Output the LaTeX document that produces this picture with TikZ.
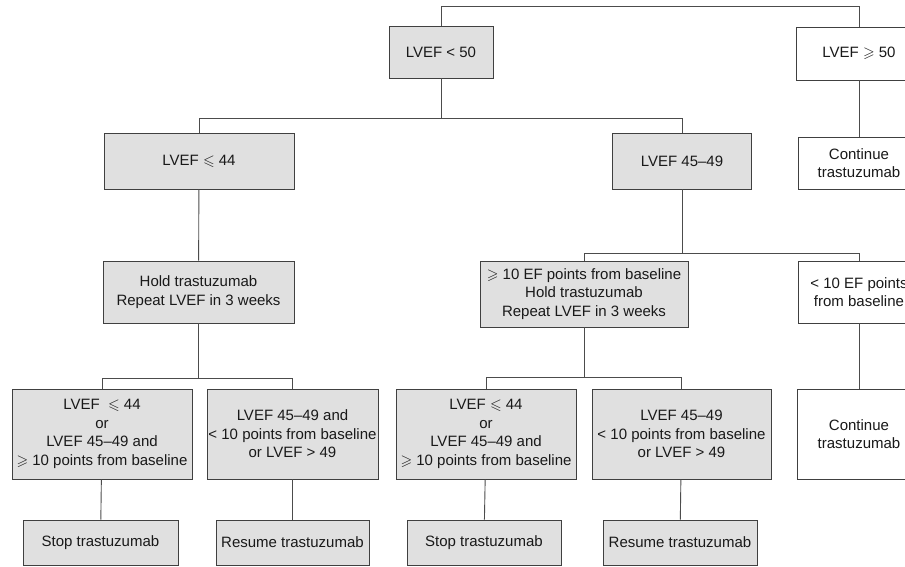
\documentclass[tikz,border=0pt]{standalone}
\usepackage{fontspec}
\setmainfont{Liberation Sans}
\usepackage{amsmath,amssymb}
\usepackage{tikz}

\tikzset{
  gbox/.style={draw=black!75, fill=black!12, line width=0.9pt, align=center, inner sep=0pt,
    font=\fontsize{15}{18.5}\selectfont, text=black!90},
  wbox/.style={gbox, fill=white},
  link/.style={draw=black!70, line width=0.9pt}
}

\begin{document}
\begin{tikzpicture}[x=1pt, y=-1pt]
\useasboundingbox (0,0) rectangle (905,567);
\clip (0,0) rectangle (905,567);
\fill[white] (0,0) rectangle (905,567);
% first level
\node[gbox, minimum width=104, minimum height=52] (lt50) at (441,52) {LVEF < 50};
\node[wbox, minimum width=126, minimum height=53] (ge50) at (859,53.5) {LVEF $\geqslant$ 50};
% second level
\node[gbox, minimum width=190, minimum height=56] (le44) at (199,161) {LVEF $\leqslant$ 44};
\node[gbox, minimum width=139, minimum height=56] (mid4549) at (682,161) {LVEF 45--49};
\node[wbox, minimum width=122, minimum height=52] (cont1) at (859,163) {Continue\\trastuzumab};
% third level
\node[gbox, minimum width=191, minimum height=62] (hold1) at (198.5,292) {Hold trastuzumab\\Repeat LVEF in 3 weeks};
\node[gbox, minimum width=208, minimum height=66] (hold2) at (584,294) {$\geqslant$ 10 EF points from baseline\\Hold trastuzumab\\Repeat LVEF in 3 weeks};
\node[wbox, minimum width=122, minimum height=62] (lt10) at (859,292) {< 10 EF points\\from baseline};
% fourth level
\node[gbox, minimum width=180, minimum height=90] (a1) at (102,434) {LVEF \ $\leqslant$ 44\\or\\LVEF 45--49 and\\$\geqslant$ 10 points from baseline};
\node[gbox, minimum width=171, minimum height=90] (b1) at (292.5,434) {LVEF 45--49 and\\< 10 points from baseline\\or LVEF > 49};
\node[gbox, minimum width=180, minimum height=90] (a2) at (486,434) {LVEF $\leqslant$ 44\\or\\LVEF 45--49 and\\$\geqslant$ 10 points from baseline};
\node[gbox, minimum width=179, minimum height=90] (b2) at (681.5,434) {LVEF 45--49\\< 10 points from baseline\\or LVEF > 49};
\node[wbox, minimum width=124, minimum height=90] (cont2) at (859,434) {Continue\\trastuzumab};
% last level
\node[gbox, minimum width=155, minimum height=45] (stop1) at (100.5,542.5) {Stop trastuzumab};
\node[gbox, minimum width=153, minimum height=45] (res1) at (292.5,542.5) {Resume trastuzumab};
\node[gbox, minimum width=154, minimum height=45] (stop2) at (484,542.5) {Stop trastuzumab};
\node[gbox, minimum width=154, minimum height=45] (res2) at (680,542.5) {Resume trastuzumab};
% branch points
\path (lt50.north) ++(0,-19) coordinate (top);
\path (lt50.south) ++(0,40) coordinate (split1);
\path (mid4549.south) ++(0,64) coordinate (split2);
\path (hold1.south) ++(0,55) coordinate (split3);
\path (hold2.south) ++(0,50) coordinate (split4);
% connectors
\draw[link] (lt50) |- (top) -| (ge50);
\draw[link] (lt50) -- (split1);
\draw[link] (le44) |- (split1) -| (mid4549);
\draw[link] (ge50) -- (cont1);
\draw[link] (le44) -- (hold1);
\draw[link] (mid4549) -- (split2);
\draw[link] (hold2) |- (split2) -| (lt10);
\draw[link] (hold1) -- (split3);
\draw[link] (a1) |- (split3) -| (b1);
\draw[link] (hold2) -- (split4);
\draw[link] (a2) |- (split4) -| (b2);
\draw[link] (lt10) -- (cont2);
\draw[link] (a1) -- (stop1);
\draw[link] (b1) -- (res1);
\draw[link] (a2) -- (stop2);
\draw[link] (b2) -- (res2);
\end{tikzpicture}
\end{document}
